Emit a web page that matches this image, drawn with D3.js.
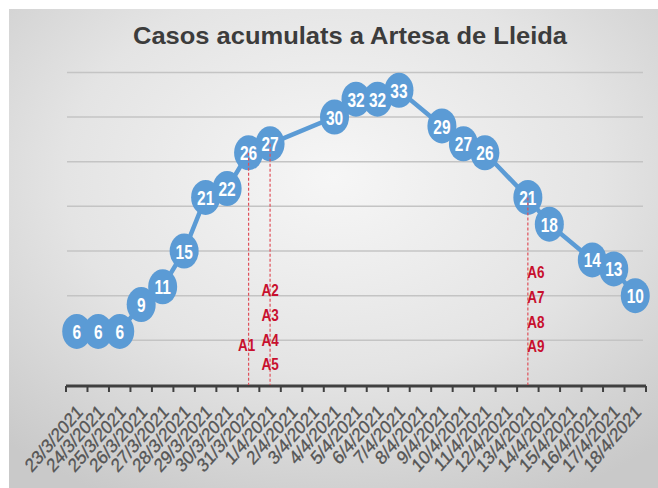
<!DOCTYPE html>
<html>
<head>
<meta charset="utf-8">
<script src="https://cdn.jsdelivr.net/npm/d3@7"></script>
<style>
  html, body { margin: 0; padding: 0; background: #fff; }
  svg { display: block; font-family: "Liberation Sans", Arial, sans-serif; }
</style>
</head>
<body>
<div id="chart"></div>
<script>
// data
const title = "Casos acumulats a Artesa de Lleida";
const dates = ["23/3/2021", "24/3/2021", "25/3/2021", "26/3/2021", "27/3/2021", "28/3/2021",
  "29/3/2021", "30/3/2021", "31/3/2021", "1/4/2021", "2/4/2021", "3/4/2021", "4/4/2021",
  "5/4/2021", "6/4/2021", "7/4/2021", "8/4/2021", "9/4/2021", "10/4/2021", "11/4/2021",
  "12/4/2021", "13/4/2021", "14/4/2021", "15/4/2021", "16/4/2021", "17/4/2021", "18/4/2021"];
const cases = [6, 6, 6, 9, 11, 15, 21, 22, 26, 27, null, null, 30, 32, 32, 33, null, 29, 27, 26,
  null, 21, 18, null, 14, 13, 10];
const yTicks = [5, 10, 15, 20, 25, 30, 35];
const markDates = ["31/3/2021", "1/4/2021", "13/4/2021"];
const markLabels = [["A1"], ["A2", "A3", "A4", "A5"], ["A6", "A7", "A8", "A9"]];

const width = 658, height = 488;
const stretch = 1.16; // the source picture is a bit taller than wide
const blue = "#5b9bd5";

const svg = d3.select("#chart").append("svg")
  .attr("width", width)
  .attr("height", height);

const defs = svg.append("defs");
const grad = defs.append("radialGradient")
  .attr("id", "bg")
  .attr("cx", "50%").attr("cy", "35%").attr("r", "75%");
grad.append("stop").attr("offset", "0%").attr("stop-color", "#f6f6f6");
grad.append("stop").attr("offset", "55%").attr("stop-color", "#e4e4e4");
grad.append("stop").attr("offset", "100%").attr("stop-color", "#c9c9c9");

svg.append("rect")
  .attr("x", 9).attr("y", 9)
  .attr("width", width - 9).attr("height", height - 9)
  .attr("fill", "url(#bg)");

const x = d3.scaleBand().domain(dates).range([66, 646]).padding(0);
const y = d3.scaleLinear().domain([0, 35]).range([385, 72.4]);
const cx = d => x(d) + x.bandwidth() / 2;

// gridlines
svg.append("g")
  .selectAll("line")
  .data(yTicks)
  .join("line")
  .attr("x1", 67).attr("x2", 643)
  .attr("y1", d => y(d)).attr("y2", d => y(d))
  .attr("stroke", "#c4c4c4")
  .attr("stroke-width", 1.5);

// title
svg.append("text")
  .attr("x", 350).attr("y", 44)
  .attr("text-anchor", "middle")
  .attr("font-size", 24)
  .attr("font-weight", "bold")
  .attr("fill", "#3c3c3c")
  .attr("textLength", 434)
  .attr("lengthAdjust", "spacingAndGlyphs")
  .text(title);

// x axis: line + ticks on category boundaries
const axisY = 386;
svg.append("line")
  .attr("x1", x.range()[0]).attr("x2", x.range()[1])
  .attr("y1", axisY).attr("y2", axisY)
  .attr("stroke", "#404040")
  .attr("stroke-width", 3);
const bounds = dates.map(d => x(d)).concat([x.range()[1]]);
svg.append("g")
  .selectAll("line")
  .data(bounds)
  .join("line")
  .attr("x1", d => d).attr("x2", d => d)
  .attr("y1", axisY).attr("y2", axisY + 6)
  .attr("stroke", "#404040")
  .attr("stroke-width", 2);

// tick labels
const xAxis = svg.append("g")
  .attr("transform", `translate(0,${axisY})`)
  .call(d3.axisBottom(x).tickSize(0).tickPadding(0));
xAxis.select(".domain").remove();
xAxis.selectAll(".tick text")
  .attr("text-anchor", "end")
  .attr("font-family", "Liberation Sans, Arial, sans-serif")
  .attr("font-size", 16.5)
  .attr("fill", "#555")
  .attr("stroke", "#555")
  .attr("stroke-width", 0.3)
  .attr("dy", null)
  .attr("y", null)
  .attr("transform", `translate(7,27) scale(1,${stretch}) rotate(-45)`);

// line across the days that have a value
const pts = dates.map((d, i) => ({ date: d, v: cases[i] })).filter(p => p.v != null);
svg.append("path")
  .datum(pts)
  .attr("fill", "none")
  .attr("stroke", blue)
  .attr("stroke-width", 4.5)
  .attr("d", d3.line().x(p => cx(p.date)).y(p => y(p.v)));

// markers with labels
const dots = svg.append("g");
dots.selectAll("ellipse")
  .data(pts)
  .join("ellipse")
  .attr("cx", p => cx(p.date))
  .attr("cy", p => y(p.v))
  .attr("rx", 14.5)
  .attr("ry", 17.5)
  .attr("fill", blue);

dots.selectAll("text")
  .data(pts)
  .join("text")
  .attr("transform", p => `translate(${cx(p.date)},${y(p.v)}) scale(0.86,${stretch})`)
  .attr("text-anchor", "middle")
  .attr("dy", "0.36em")
  .attr("font-size", 18)
  .attr("font-weight", "bold")
  .attr("fill", "#fff")
  .text(p => p.v);

// red dashed markers
const red = "#c8102e";
const labelDx = [-2, 0, 8];
const labelTop = [345, 290, 272];
markDates.forEach((d, k) => {
  const v = cases[dates.indexOf(d)];
  svg.append("line")
    .attr("x1", cx(d)).attr("x2", cx(d))
    .attr("y1", y(v)).attr("y2", axisY - 1)
    .attr("stroke", "#e0505a")
    .attr("stroke-width", 1.2)
    .attr("stroke-dasharray", "3,2");
  svg.append("g")
    .selectAll("text")
    .data(markLabels[k])
    .join("text")
    .attr("transform", (t, j) => `translate(${cx(d) + labelDx[k]},${labelTop[k] + j * 24.7}) scale(0.9,${stretch})`)
    .attr("text-anchor", "middle")
    .attr("dy", "0.36em")
    .attr("font-size", 15)
    .attr("font-weight", "bold")
    .attr("fill", red)
    .text(t => t);
});
</script>
</body>
</html>
